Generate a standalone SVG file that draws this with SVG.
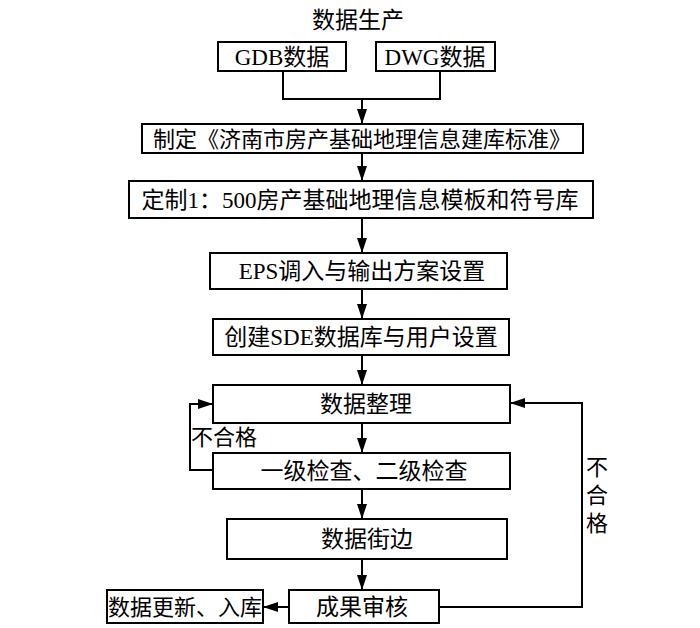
<svg xmlns="http://www.w3.org/2000/svg" width="700" height="628" viewBox="0 0 700 628">
<style>
.box{fill:#fff;stroke:#000;stroke-width:2}
.t{font-family:"Liberation Serif","Noto Sans CJK SC",serif;font-size:23px;fill:#000;text-anchor:middle;dominant-baseline:central}
.s{font-size:22px}
.c{fill:none;stroke:#000;stroke-width:2}
</style>
<defs>
<marker id="arr" markerUnits="userSpaceOnUse" markerWidth="15" markerHeight="10" refX="15" refY="5" orient="auto">
<path d="M0,0 L15,5 L0,10 z" fill="#000"/>
</marker>
</defs>
<rect width="700" height="628" fill="#fff"/>
<g id="title"><text class="t" x="358" y="20">数据生产</text></g>
<g id="gdb"><rect class="box" x="218" y="42" width="128" height="29"/><text class="t" x="282" y="57">GDB数据</text></g>
<g id="dwg"><rect class="box" x="376" y="42" width="119" height="29"/><text class="t" x="435" y="57">DWG数据</text></g>
<g id="n1"><rect class="box" x="142" y="124" width="441" height="29"/><text class="t s" x="362" y="139">制定《济南市房产基础地理信息建库标准》</text></g>
<g id="n2"><rect class="box" x="129" y="181" width="464" height="37"/><text class="t" x="360" y="200">定制1：500房产基础地理信息模板和符号库</text></g>
<g id="n3"><rect class="box" x="210" y="253" width="297" height="36"/><text class="t" x="362" y="271">EPS调入与输出方案设置</text></g>
<g id="n4"><rect class="box" x="213" y="319" width="296" height="36"/><text class="t" x="361" y="337">创建SDE数据库与用户设置</text></g>
<g id="n5"><rect class="box" x="213" y="385" width="297" height="38"/><text class="t" x="366" y="404">数据整理</text></g>
<g id="n6"><rect class="box" x="213" y="453" width="297" height="36"/><text class="t" x="364" y="471">一级检查、二级检查</text></g>
<g id="n7"><rect class="box" x="227" y="519" width="280" height="40"/><text class="t" x="367" y="539">数据街边</text></g>
<g id="n8"><rect class="box" x="289" y="590" width="150" height="33"/><text class="t" x="362" y="607">成果审核</text></g>
<g id="n9"><rect class="box" x="107" y="590" width="156" height="33"/><text class="t s" x="185" y="607">数据更新、入库</text></g>
<g id="connectors">
<path class="c" d="M283,71 V99 H440 V71"/>
<path class="c" d="M362,99 V124" marker-end="url(#arr)"/>
<path class="c" d="M362,153 V181" marker-end="url(#arr)"/>
<path class="c" d="M362,218 V253" marker-end="url(#arr)"/>
<path class="c" d="M362,289 V319" marker-end="url(#arr)"/>
<path class="c" d="M362,355 V385" marker-end="url(#arr)"/>
<path class="c" d="M362,423 V453" marker-end="url(#arr)"/>
<path class="c" d="M362,489 V519" marker-end="url(#arr)"/>
<path class="c" d="M362,559 V590" marker-end="url(#arr)"/>
<path class="c" d="M289,607 H263" marker-end="url(#arr)"/>
<path class="c" d="M213,470 H190 V404 H213" marker-end="url(#arr)"/>
<path class="c" d="M439,607 H582 V403 H510" marker-end="url(#arr)"/>
<text class="t s" x="224" y="437">不合格</text>
<text class="t s" x="597" y="467">不</text>
<text class="t s" x="597" y="495">合</text>
<text class="t s" x="597" y="523">格</text>
</g>
</svg>
